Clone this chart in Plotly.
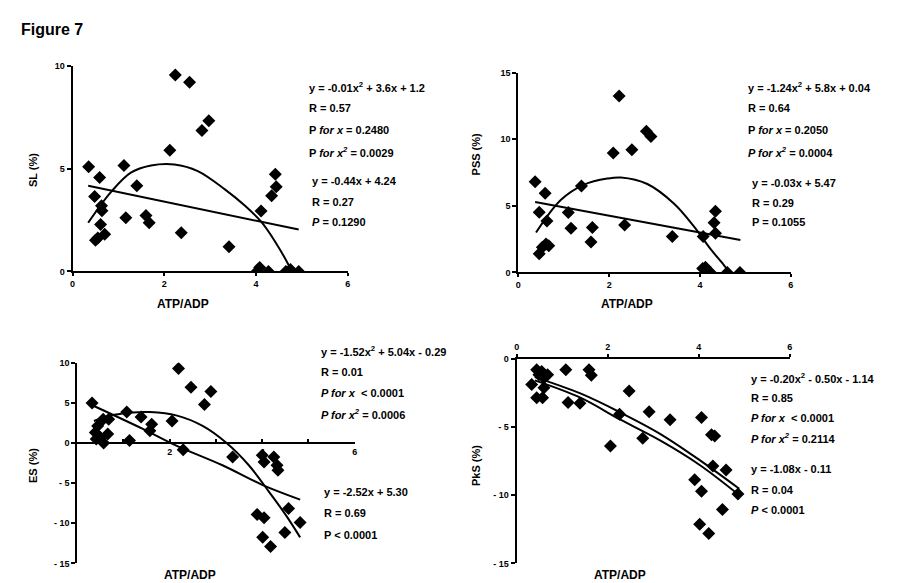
import plotly.graph_objects as go

W, H = 909, 583

# ---------------- data ----------------
sl_x = [0.35, 0.48, 0.59, 0.50, 0.55, 0.61, 0.70, 0.63, 0.64, 1.12, 1.16, 1.40, 1.60, 1.67,
        2.12, 2.24, 2.55, 2.37, 2.82, 2.97, 3.41, 4.11, 4.34, 4.42, 4.44,
        4.02, 4.08, 4.27, 4.65, 4.75, 4.93]
sl_y = [5.10, 3.65, 4.57, 1.52, 1.63, 2.29, 1.81, 3.20, 2.96, 5.16, 2.61, 4.17, 2.72, 2.37,
        5.90, 9.57, 9.21, 1.89, 6.86, 7.34, 1.20, 2.95, 3.69, 4.73, 4.13,
        0.00, 0.20, 0.00, 0.00, 0.10, 0.00]
sl_quad_x = [0.34, 0.83, 1.27, 1.71, 2.22, 2.73, 3.32, 3.76, 4.12, 4.42, 4.71, 4.78]
sl_quad_y = [2.37, 3.85, 4.81, 5.16, 5.21, 4.89, 4.00, 3.20, 2.40, 1.44, 0.32, 0.00]
sl_lin_x = [0.34, 4.93]
sl_lin_y = [4.17, 2.04]

pss_x = [0.37, 0.46, 0.59, 0.63, 0.46, 0.53, 0.61, 0.67, 1.10, 1.16, 1.39, 1.63, 1.60,
         2.09, 2.22, 2.34, 2.50, 2.82, 2.92, 3.39, 4.07, 4.31, 4.34, 4.34,
         4.06, 4.12, 4.23, 4.60, 4.88]
pss_y = [6.81, 4.52, 5.95, 3.86, 1.40, 1.89, 2.14, 2.00, 4.50, 3.32, 6.50, 3.37, 2.29,
         8.97, 13.25, 3.57, 9.22, 10.60, 10.20, 2.70, 2.70, 3.74, 4.60, 2.95,
         0.30, 0.40, 0.00, 0.00, 0.00]
pss_quad_x = [0.39, 0.94, 1.45, 1.96, 2.26, 2.84, 3.43, 3.87, 4.23, 4.53, 4.64]
pss_quad_y = [3.00, 5.46, 6.60, 7.05, 7.13, 6.64, 5.16, 3.44, 1.77, 0.54, 0.05]
pss_lin_x = [0.37, 4.89]
pss_lin_y = [5.29, 2.44]

es_x = [0.32, 0.39, 0.44, 0.41, 0.50, 0.57, 0.66, 0.68, 0.56, 1.07, 1.13, 1.38, 1.61, 1.57,
        2.05, 2.19, 2.29, 2.46, 2.75, 2.89, 3.36, 4.00, 4.04, 4.25, 4.32, 4.34,
        3.89, 4.04, 4.01, 4.18, 4.57, 4.49, 4.82]
es_y = [4.98, 1.31, 2.12, 0.49, 0.69, 0.00, 1.10, 2.94, 2.94, 3.84, 0.29, 3.22, 2.33, 1.51,
        2.73, 9.27, -0.86, 6.94, 4.78, 6.41, -1.76, -1.55, -2.37, -1.76, -2.78, -3.39,
        -8.90, -9.31, -11.76, -12.90, -8.16, -11.14, -9.92]
es_quad_x = [0.36, 0.80, 1.20, 1.57, 2.14, 2.71, 3.21, 3.71, 4.14, 4.50, 4.82]
es_quad_y = [2.73, 3.50, 3.80, 3.84, 3.43, 2.12, 0.08, -2.78, -6.04, -8.90, -11.76]
es_lin_x = [0.29, 1.43, 2.14, 3.14, 4.00, 4.82]
es_lin_y = [4.78, 1.71, -0.33, -2.78, -5.22, -7.06]

pks_x = [0.33, 0.44, 0.49, 0.55, 0.44, 0.57, 0.60, 0.60, 0.68, 1.08, 1.13, 1.39, 1.59, 1.64,
         2.06, 2.26, 2.47, 2.77, 2.91, 3.37, 3.91, 4.06, 4.06, 4.02, 4.22, 4.28, 4.35,
         4.31, 4.60, 4.52, 4.86]
pks_y = [-1.88, -0.80, -1.16, -0.92, -2.84, -2.84, -2.12, -1.40, -1.16, -0.80, -3.20, -3.25,
         -0.80, -1.20, -6.39, -4.05, -2.36, -5.81, -3.88, -4.46, -8.87, -4.29, -9.71, -12.12,
         -12.80, -5.57, -5.66, -7.86, -8.14, -11.04, -9.90]
pks_quad_x = [0.40, 1.40, 2.28, 3.15, 4.02, 4.89]
pks_quad_y = [-1.33, -2.53, -3.93, -5.49, -7.42, -9.52]
pks_lin_x = [0.40, 1.40, 2.28, 3.15, 4.02, 4.89]
pks_lin_y = [-1.57, -2.84, -4.46, -5.98, -7.78, -10.00]

x_ticks = [0, 2, 4, 6]
es_x_ticks = [2, 4, 6]
es_x_minor = [1, 3, 5]
sl_ticks = [0, 5, 10]
pss_ticks = [0, 5, 10, 15]
es_ticks = [-15, -10, -5, 0, 5, 10]
es_ticktext = ["- 15", "- 10", "- 5", "0", "5", "10"]
pks_ticks = [-15, -10, -5, 0]
pks_ticktext = ["- 15", "- 10", "- 5", "0"]

sl_text = ["y = -0.01x<sup>2</sup> + 3.6x + 1.2", "R = 0.57",
           "P <i>for x</i> = 0.2480", "P <i>for x<sup>2</sup></i> = 0.0029"]
sl_text2 = ["y = -0.44x + 4.24", "R = 0.27", "<i>P</i> = 0.1290"]
pss_text = ["y = -1.24x<sup>2</sup> + 5.8x + 0.04", "R = 0.64",
            "P <i>for x</i> = 0.2050", "<i>P for x<sup>2</sup></i> = 0.0004"]
pss_text2 = ["y = -0.03x + 5.47", "R = 0.29", "P = 0.1055"]
es_text = ["y = -1.52x<sup>2</sup> + 5.04x - 0.29", "R = 0.01",
           "<i>P for x</i>  &lt; 0.0001", "<i>P for x<sup>2</sup></i> = 0.0006"]
es_text2 = ["y = -2.52x + 5.30", "R = 0.69", "P &lt; 0.0001"]
pks_text = ["y = -0.20x<sup>2</sup> - 0.50x - 1.14", "R = 0.85",
            "<i>P for x</i>  &lt; 0.0001", "<i>P for x<sup>2</sup></i> = 0.2114"]
pks_text2 = ["y = -1.08x - 0.11", "R = 0.04", "<i>P</i> &lt; 0.0001"]

# ---------------- layout helpers ----------------
def px_x(p):
    return p / W

def px_y(p):
    return 1 - p / H

FONT = "Liberation Sans, Arial, sans-serif"

fig = go.Figure()

panels = [
    ("", sl_x, sl_y, sl_quad_x, sl_quad_y, sl_lin_x, sl_lin_y),
    ("2", pss_x, pss_y, pss_quad_x, pss_quad_y, pss_lin_x, pss_lin_y),
    ("3", es_x, es_y, es_quad_x, es_quad_y, es_lin_x, es_lin_y),
    ("4", pks_x, pks_y, pks_quad_x, pks_quad_y, pks_lin_x, pks_lin_y),
]
for suf, x, y, qx, qy, lx, ly in panels:
    ax = dict(xaxis="x" + suf, yaxis="y" + suf)
    fig.add_trace(go.Scatter(x=qx, y=qy, mode="lines", line=dict(color="black", width=2, shape="spline"),
                             showlegend=False, hoverinfo="skip", **ax))
    fig.add_trace(go.Scatter(x=lx, y=ly, mode="lines", line=dict(color="black", width=2, shape="spline"),
                             showlegend=False, hoverinfo="skip", **ax))
    fig.add_trace(go.Scatter(x=x, y=y, mode="markers",
                             marker=dict(symbol="diamond", size=10, color="black"),
                             showlegend=False, **ax))

tickfont = dict(family=FONT, size=9, color="black", weight="bold")

def xaxis(dom, **kw):
    d = dict(domain=dom, range=[0, 6], showline=True, linewidth=2, linecolor="black",
             showgrid=False, zeroline=False, ticks="outside", ticklen=3, tickwidth=2,
             tickcolor="black", tickvals=x_ticks, tickfont=tickfont, fixedrange=True)
    d.update(kw)
    return d

def yaxis(dom, rng, tv, tt=None, **kw):
    d = dict(domain=dom, range=rng, showline=True, linewidth=2, linecolor="black",
             showgrid=False, zeroline=False, ticks="outside", ticklen=4, tickwidth=2,
             tickcolor="black", tickvals=tv, tickfont=tickfont, fixedrange=True)
    if tt is not None:
        d["ticktext"] = tt
    d.update(kw)
    return d

es_dom_y = [px_y(560), px_y(355.7)]
es_zero_pos = es_dom_y[0] + (0 - (-15)) / (10 - (-15)) * (es_dom_y[1] - es_dom_y[0])

fig.update_layout(
    width=W, height=H, margin=dict(l=0, r=0, t=0, b=0),
    plot_bgcolor="white", paper_bgcolor="white",
    xaxis=xaxis([px_x(62), px_x(339)], anchor="y"),
    yaxis=yaxis([px_y(263), px_y(54)], [0, 10], sl_ticks, anchor="x"),
    xaxis2=xaxis([px_x(510.7), px_x(785)], anchor="y2"),
    yaxis2=yaxis([px_y(264), px_y(60.7)], [0, 15], pss_ticks, anchor="x2"),
    xaxis3=xaxis([px_x(66.7), px_x(346)], anchor="free", position=es_zero_pos,
                 tickvals=es_x_ticks, ticks="inside", ticklen=3,
                 minor=dict(tickvals=es_x_minor, ticks="inside", ticklen=3, tickwidth=2,
                            tickcolor="black")),
    yaxis3=yaxis(es_dom_y, [-15, 10], es_ticks, es_ticktext, anchor="x3"),
    xaxis4=xaxis([px_x(509), px_x(784)], anchor="y4", side="top"),
    yaxis4=yaxis([px_y(560), px_y(352)], [-15, 0], pks_ticks, pks_ticktext, anchor="x4"),
)

ann = []
def text(t, x, y, size=11, angle=0, anchor="left"):
    ann.append(dict(text=t, x=px_x(x), y=px_y(y), xref="paper", yref="paper",
                    xanchor=anchor, yanchor="middle", showarrow=False, textangle=angle,
                    font=dict(family=FONT, size=size, color="black", weight="bold")))

text("Figure 7", 8, 17, size=16)

def block(lines, x, y0, step):
    for i, t in enumerate(lines):
        text(t, x, y0 + i * step)

block(sl_text, 298, 75, 22)
block(sl_text2, 301, 171, 21)
block(pss_text, 740, 75, 22)
block(pss_text2, 744, 173, 20)
block(es_text, 310, 344, 21.5)
block(es_text2, 313, 487, 22)
block(pks_text, 743, 371, 20.5)
block(pks_text2, 743, 464, 21)

text("SL (%)", 22, 160, size=11, angle=-90, anchor="center")
text("PSS (%)", 468, 143, size=11, angle=-90, anchor="center")
text("ES (%)", 22, 460, size=11, angle=-90, anchor="center")
text("PkS (%)", 468, 460, size=11, angle=-90, anchor="center")
text("ATP/ADP", 173, 296, size=12, anchor="center")
text("ATP/ADP", 620, 296, size=12, anchor="center")
text("ATP/ADP", 180, 572, size=12, anchor="center")
text("ATP/ADP", 613, 572, size=12, anchor="center")

fig.update_layout(annotations=ann)
fig.write_html("out.html")
